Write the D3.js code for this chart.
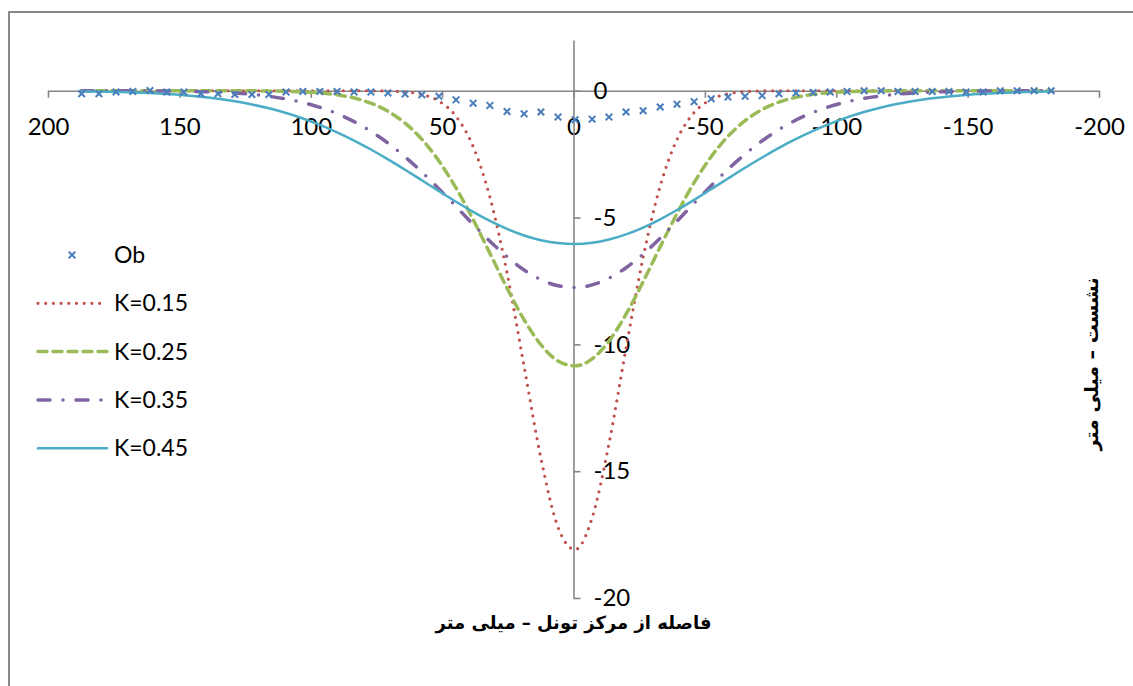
<!DOCTYPE html>
<html lang="fa">
<head>
<meta charset="UTF-8">
<title>Settlement profiles</title>
<script src="https://d3js.org/d3.v7.min.js"></script>
<style>
  body { margin: 0; background: #fff; }
  svg { display: block; }
  .tick text { font-family: Lato, "Open Sans", sans-serif; fill: #000; }
  .legend text { font-family: Lato, "Open Sans", sans-serif; font-size: 23px; fill: #000; }
  .title { font-family: "DejaVu Sans", sans-serif; font-weight: bold; fill: #000; }
</style>
</head>
<body>
<div id="chart"></div>
<script>
// distance from tunnel centre (same rows for observed and computed series)
const xs = [187.2, 180.6, 174.1, 167.7, 161.2, 154.8, 148.3, 141.8, 135.3, 128.9,
  122.4, 115.9, 109.4, 103.0, 96.5, 90.0, 83.5, 77.1, 70.6, 64.1,
  57.7, 51.2, 44.7, 38.2, 31.8, 25.3, 18.8, 12.4, 5.9, -0.6,
  -7.1, -13.5, -20.0, -26.5, -33.0, -39.4, -45.9, -52.4, -58.8, -65.3,
  -71.8, -78.2, -84.7, -91.2, -97.7, -104.1, -110.6, -117.1, -123.5, -130.0,
  -136.5, -142.9, -149.4, -155.9, -162.4, -168.8, -175.3, -181.8];

const ob = [-0.12, -0.12, -0.05, -0.03, 0.01, -0.05, -0.05, -0.12, -0.12, -0.15,
  -0.15, -0.15, -0.05, -0.03, -0.03, -0.03, -0.05, -0.05, -0.09, -0.13,
  -0.16, -0.22, -0.36, -0.49, -0.58, -0.82, -0.91, -0.84, -1.04, -1.14,
  -1.12, -1.04, -0.84, -0.79, -0.64, -0.53, -0.43, -0.32, -0.25, -0.22,
  -0.19, -0.12, -0.09, -0.07, -0.05, -0.03, 0, 0, -0.03, -0.03,
  -0.03, -0.03, -0.05, -0.05, 0, 0, 0, 0];

const k15 = [0, 0, 0, 0, 0, 0, 0, 0, 0, 0,
  0, 0, 0, 0, 0, 0, 0, -0.003, -0.013, -0.048,
  -0.147, -0.41, -1.009, -2.199, -4.199, -7.178, -10.867, -14.489, -17.207, -18.09,
  -16.838, -13.913, -10.154, -6.563, -3.752, -1.922, -0.862, -0.342, -0.123, -0.038,
  -0.011, -0.003, 0, 0, 0, 0, 0, 0, 0, 0,
  0, 0, 0, 0, 0, 0, 0, 0];

const k25 = [0, 0, 0, 0, 0, 0, 0, 0, -0.001, -0.002,
  -0.004, -0.01, -0.021, -0.044, -0.085, -0.16, -0.289, -0.492, -0.811, -1.279,
  -1.919, -2.774, -3.837, -5.079, -6.412, -7.777, -9.029, -10.015, -10.655, -10.848,
  -10.571, -9.87, -8.811, -7.53, -6.157, -4.839, -3.625, -2.6, -1.796, -1.18,
  -0.742, -0.45, -0.26, -0.143, -0.076, -0.039, -0.019, -0.009, -0.004, -0.002,
  -0.001, 0, 0, 0, 0, 0, 0, 0];

const k35 = [-0.001, -0.001, -0.002, -0.004, -0.008, -0.013, -0.023, -0.037, -0.06, -0.094,
  -0.145, -0.219, -0.324, -0.464, -0.655, -0.904, -1.219, -1.602, -2.066, -2.607,
  -3.207, -3.87, -4.566, -5.268, -5.933, -6.547, -7.066, -7.449, -7.688, -7.76,
  -7.657, -7.394, -6.978, -6.441, -5.811, -5.14, -4.436, -3.743, -3.099, -2.502,
  -1.976, -1.531, -1.155, -0.853, -0.616, -0.437, -0.302, -0.204, -0.135, -0.087,
  -0.055, -0.034, -0.021, -0.012, -0.007, -0.004, -0.002, -0.001];

const k45 = [-0.021, -0.032, -0.046, -0.065, -0.092, -0.127, -0.174, -0.237, -0.316, -0.415,
  -0.54, -0.693, -0.878, -1.093, -1.346, -1.638, -1.963, -2.318, -2.706, -3.115,
  -3.532, -3.959, -4.377, -4.775, -5.132, -5.448, -5.706, -5.892, -6.006, -6.04,
  -5.992, -5.865, -5.663, -5.394, -5.068, -4.703, -4.301, -3.88, -3.46, -3.038,
  -2.632, -2.254, -1.901, -1.581, -1.297, -1.053, -0.841, -0.663, -0.517, -0.396,
  -0.3, -0.225, -0.165, -0.12, -0.086, -0.061, -0.043, -0.029];

const xTicks = [200, 150, 100, 50, 0, -50, -100, -150, -200];
const yTicks = [0, -5, -10, -15, -20];

const xTitle = "فاصله از مرکز تونل – میلی متر";
const yTitle = "نشست – میلی متر";

const series = [
  { name: "K=0.15", values: k15, color: "#C0504D", width: 3.2, dash: "0 7.7" },
  { name: "K=0.25", values: k25, color: "#9BBB59", width: 3.5, dash: "9 6" },
  { name: "K=0.35", values: k35, color: "#8064A2", width: 3.5, dash: "12 13 0 13" },
  { name: "K=0.45", values: k45, color: "#4BACC6", width: 2.5, dash: null }
];

const width = 1133, height = 686;
const axisColor = "#868686";
const plain = d => String(d); // keep ASCII hyphen for negatives

const svg = d3.select("#chart").append("svg")
  .attr("width", width)
  .attr("height", height);

// outer frame (left + top only visible in the picture)
svg.append("path")
  .attr("d", `M9,${height} V12 H${width}`)
  .attr("fill", "none")
  .attr("stroke", "#888")
  .attr("stroke-width", 2);

const x = d3.scaleLinear().domain([200, -200]).range([48, 1099]);
const y = d3.scaleLinear().domain([2, -20]).range([40, 598]);

// x axis along y = 0
const gx = svg.append("g")
  .attr("transform", `translate(0,${y(0)})`)
  .call(d3.axisBottom(x).tickValues(xTicks).tickFormat(plain)
    .tickSize(7).tickSizeOuter(0).tickPadding(20));
gx.selectAll(".tick text").attr("font-size", 24);

// y axis along x = 0, labels on the right
const gy = svg.append("g")
  .attr("transform", `translate(${x(0)},0)`)
  .call(d3.axisRight(y).tickValues(yTicks).tickFormat(plain)
    .tickSize(7).tickSizeOuter(0).tickPadding(13));
gy.selectAll(".tick text").attr("font-size", 24);

svg.selectAll(".domain, .tick line")
  .attr("stroke", axisColor)
  .attr("stroke-width", 1.6);

// computed curves
const line = d3.line()
  .x((d, i) => x(xs[i]))
  .y(d => y(d))
  .curve(d3.curveMonotoneX);

series.forEach(s => {
  svg.append("path")
    .datum(s.values)
    .attr("d", line)
    .attr("fill", "none")
    .attr("stroke", s.color)
    .attr("stroke-width", s.width)
    .attr("stroke-linecap", "round")
    .attr("stroke-dasharray", s.dash);
});

// observed points
const cross = d3.symbol().type(d3.symbolX).size(30);
svg.append("g").selectAll("path")
  .data(ob)
  .join("path")
  .attr("d", cross)
  .attr("transform", (d, i) => `translate(${x(xs[i])},${y(d)})`)
  .attr("fill", "none")
  .attr("stroke", "#4A7EBB")
  .attr("stroke-width", 2);

// legend
const legend = svg.append("g").attr("class", "legend");
const rowY = d => 255 + d * 48.3;

legend.append("path")
  .attr("d", cross)
  .attr("transform", `translate(72,${rowY(0)})`)
  .attr("fill", "none")
  .attr("stroke", "#4A7EBB")
  .attr("stroke-width", 2);
legend.append("text")
  .attr("x", 114).attr("y", rowY(0))
  .attr("dy", "0.35em")
  .text("Ob");

series.forEach((s, i) => {
  const yy = rowY(i + 1);
  legend.append("line")
    .attr("x1", 38).attr("x2", 107)
    .attr("y1", yy).attr("y2", yy)
    .attr("stroke", s.color)
    .attr("stroke-width", s.width)
    .attr("stroke-linecap", "round")
    .attr("stroke-dasharray", s.dash);
  legend.append("text")
    .attr("x", 114).attr("y", yy)
    .attr("dy", "0.35em")
    .text(s.name);
});

// axis titles
svg.append("text")
  .attr("class", "title")
  .attr("x", x(0)).attr("y", 623)
  .attr("dy", "0.35em")
  .attr("text-anchor", "middle")
  .attr("font-size", 18)
  .attr("direction", "rtl")
  .text(xTitle);

svg.append("text")
  .attr("class", "title")
  .attr("transform", "translate(1091,364) rotate(-90)")
  .attr("dy", "0.35em")
  .attr("text-anchor", "middle")
  .attr("font-size", 19)
  .attr("direction", "rtl")
  .text(yTitle);
</script>
</body>
</html>
